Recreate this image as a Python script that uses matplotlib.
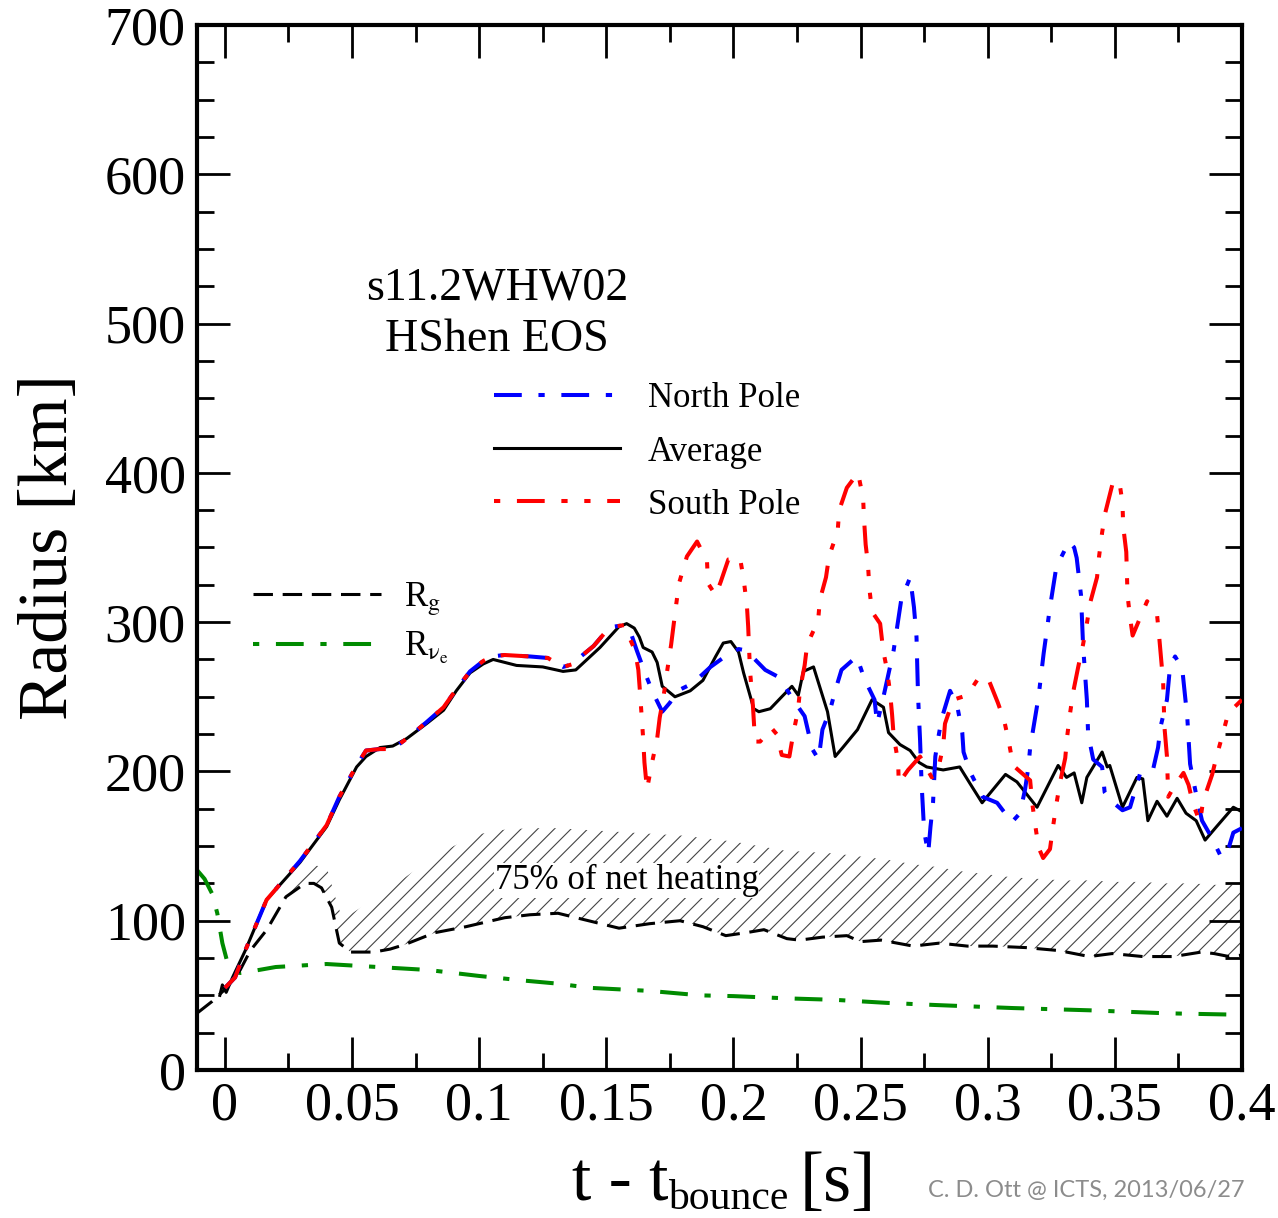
import numpy as np
import matplotlib
matplotlib.use("Agg")
import matplotlib.pyplot as plt
from matplotlib.lines import Line2D
from matplotlib.ticker import MultipleLocator, FuncFormatter

# ---- data (t - t_bounce [s], radius [km]) ----
avg_t = [-0.002, -0.001, 0.0005, 0.003, 0.008, 0.0164, 0.0295, 0.04, 0.045, 0.0518, 0.0555,
         0.061, 0.066, 0.0715, 0.0793, 0.086, 0.091, 0.0964, 0.1016, 0.1055, 0.1147, 0.125,
         0.133, 0.138, 0.1475, 0.155, 0.158, 0.161, 0.163, 0.1645, 0.168, 0.17, 0.172, 0.177,
         0.183, 0.188, 0.193, 0.196, 0.199, 0.202, 0.204, 0.208, 0.21, 0.2145, 0.219, 0.223,
         0.2255, 0.2275, 0.2315, 0.237, 0.24, 0.243, 0.2488, 0.2545, 0.259, 0.261, 0.2655,
         0.2695, 0.273, 0.276, 0.2825, 0.289, 0.293, 0.2978, 0.307, 0.3115, 0.3194, 0.3277,
         0.331, 0.334, 0.337, 0.339, 0.345, 0.347, 0.348, 0.353, 0.355, 0.3587, 0.361, 0.363,
         0.3666, 0.3705, 0.3745, 0.378, 0.382, 0.3855, 0.39, 0.3966, 0.4]
avg_r = [50, 57, 52, 62, 80, 114, 139, 163, 181, 203, 210,
         216, 217, 222, 232, 241, 254, 266, 272, 275, 271, 270,
         267, 268, 283, 297, 299, 296, 290, 283, 280, 273, 257, 250,
         254, 261, 277, 286, 287, 280, 266, 242, 240, 242, 250, 257,
         251, 267, 270, 240, 210, 216, 228, 248, 243, 226, 218,
         214, 206, 203, 201, 203, 192, 179, 198, 193, 176, 204,
         196, 199, 179, 196, 213, 203, 204, 176, 183, 196, 195, 167,
         180, 170, 182, 172, 167, 154, 163, 176, 173]

north_t = [0.0, 0.004, 0.008, 0.0164, 0.0295, 0.04, 0.045, 0.0518, 0.0555, 0.061, 0.066,
           0.0715, 0.0793, 0.086, 0.091, 0.0964, 0.1016, 0.105, 0.11, 0.12, 0.127, 0.133,
           0.137, 0.14, 0.145, 0.149, 0.153, 0.157, 0.16, 0.162, 0.165, 0.168, 0.172, 0.175,
           0.178, 0.184, 0.191, 0.1975, 0.202, 0.205, 0.2125, 0.218, 0.2235, 0.228, 0.231,
           0.2335, 0.235, 0.238, 0.24, 0.2425, 0.2485, 0.2515, 0.2555, 0.2565, 0.259, 0.263,
           0.266, 0.2695, 0.271, 0.272, 0.2726, 0.2734, 0.274, 0.275, 0.2766, 0.2775, 0.2785,
           0.2794, 0.2806, 0.282, 0.2852, 0.288, 0.29, 0.2905, 0.293, 0.298, 0.3037, 0.3095,
           0.3127, 0.3147, 0.316, 0.3167, 0.32, 0.322, 0.3245, 0.327, 0.332, 0.334, 0.335,
           0.3367, 0.3375, 0.339, 0.3395, 0.3415, 0.345, 0.346, 0.348, 0.353, 0.356, 0.36,
           0.365, 0.367, 0.368, 0.3705, 0.3717, 0.3737, 0.3765, 0.3785, 0.3796, 0.3824, 0.3843,
           0.388, 0.392, 0.395, 0.3966, 0.4]
north_r = [55, 62, 80, 114, 140, 164, 183, 204, 214, 215, 215,
           222, 233, 243, 255, 267, 274, 277, 278, 277, 276, 270,
           272, 277, 284, 292, 297, 298, 291, 281, 267, 254, 240, 246,
           254, 259, 270, 278, 282, 281, 268, 263, 248, 237, 215,
           208, 228, 241, 254, 268, 277, 262, 248, 232, 250, 281,
           315, 330, 310, 290, 251, 221, 192, 160, 145, 163, 179,
           210, 223, 236, 254, 244, 226, 213, 200, 183, 179, 166,
           172, 188, 203, 216, 250, 279, 310, 337, 354, 350, 343,
           318, 285, 248, 225, 208, 203, 186, 181, 174, 176, 199,
           201, 216, 230, 248, 270, 277, 269, 236, 205, 181, 167,
           156, 142, 150, 159, 162]

south_t = [0.0, 0.004, 0.008, 0.0164, 0.0295, 0.04, 0.045, 0.0518, 0.0555, 0.061, 0.066,
           0.0715, 0.0793, 0.086, 0.091, 0.0964, 0.1016, 0.105, 0.11, 0.12, 0.127, 0.133,
           0.137, 0.14, 0.145, 0.149, 0.153, 0.157, 0.159, 0.1613, 0.1626, 0.1633, 0.1645,
           0.165, 0.166, 0.168, 0.17, 0.171, 0.1725, 0.174, 0.1755, 0.1775, 0.1786, 0.1817,
           0.1857, 0.1896, 0.19, 0.193, 0.195, 0.198, 0.2026, 0.204, 0.2053, 0.2058, 0.2065,
           0.2077, 0.2085, 0.2105, 0.215, 0.217, 0.219, 0.222, 0.2235, 0.2254, 0.2262, 0.228,
           0.229, 0.2333, 0.234, 0.2364, 0.2376, 0.241, 0.2416, 0.2446, 0.249, 0.251, 0.2514,
           0.252, 0.2529, 0.2535, 0.2545, 0.2577, 0.2589, 0.2604, 0.2616, 0.2624, 0.263,
           0.2648, 0.265, 0.2687, 0.2734, 0.278, 0.2806, 0.2825, 0.2832, 0.2864, 0.2919,
           0.2962, 0.3, 0.304, 0.3065, 0.3084, 0.31, 0.3167, 0.3175, 0.3187, 0.32, 0.3218,
           0.3245, 0.3257, 0.327, 0.3285, 0.3305, 0.3313, 0.3324, 0.3336, 0.3356, 0.3375,
           0.339, 0.3403, 0.343, 0.3438, 0.345, 0.3462, 0.349, 0.3517, 0.353, 0.3533, 0.3545,
           0.355, 0.356, 0.357, 0.3627, 0.3666, 0.3674, 0.369, 0.3695, 0.3705, 0.371, 0.3737,
           0.377, 0.379, 0.3808, 0.3835, 0.3847, 0.3883, 0.39, 0.3926, 0.3946, 0.4]
south_r = [55, 62, 80, 114, 140, 164, 183, 204, 214, 215, 215,
           222, 233, 243, 255, 267, 274, 277, 278, 277, 276, 270,
           272, 277, 284, 292, 297, 298, 290, 281, 268, 252, 222,
           206, 188, 206, 222, 236, 250, 268, 285, 312, 326, 344,
           354, 341, 326, 318, 327, 342, 343, 329, 311, 297, 268,
           243, 220, 220, 229, 225, 211, 210, 225, 241, 255, 271,
           285, 301, 315, 330, 344, 361, 375, 390, 400, 383, 368,
           352, 339, 322, 307, 299, 281, 268, 253, 238, 224,
           206, 192, 201, 210, 196, 202, 217, 232, 248, 251,
           262, 263, 246, 234, 219, 204, 194, 179, 164, 149, 142,
           148, 163, 178, 193, 209, 224, 239, 253, 270, 285,
           299, 313, 330, 344, 360, 373, 392, 395, 380, 364, 347,
           318, 303, 291, 314, 305, 291, 260, 230, 210, 183, 191,
           199, 191, 178, 166, 180, 198, 210, 226, 239, 248]

rg_t = [-0.011, -0.005, 0.0, 0.003, 0.006, 0.01, 0.0165, 0.024, 0.0315, 0.035, 0.038,
        0.042, 0.045, 0.0495, 0.0586, 0.065, 0.0707, 0.0826, 0.0948, 0.11, 0.12, 0.131,
        0.143, 0.155, 0.167, 0.179, 0.188, 0.197, 0.205, 0.212, 0.221, 0.226, 0.235, 0.2446,
        0.25, 0.258, 0.2707, 0.281, 0.292, 0.302, 0.315, 0.328, 0.34, 0.349, 0.361, 0.373,
        0.384, 0.389, 0.395, 0.4]
rg_r = [38, 46, 54, 60, 67, 80, 94, 116, 125, 125, 122,
        109, 85, 79, 79, 81, 84, 92, 96, 102, 104, 105,
        100, 95, 98, 100, 96, 90, 92, 94, 88, 87, 89, 90,
        86, 87, 83, 85, 83, 83, 82, 80, 76, 78, 76, 76,
        79, 78, 76, 77]

nu_t = [-0.011, -0.008, -0.005, -0.003, -0.001, 0.001, 0.003, 0.006, 0.01, 0.02, 0.03,
        0.04, 0.05, 0.06, 0.07, 0.08, 0.09, 0.1, 0.117, 0.13, 0.144, 0.167, 0.187, 0.2,
        0.221, 0.24, 0.26, 0.28, 0.31, 0.34, 0.37, 0.4]
nu_r = [134, 128, 118, 105, 85, 72, 66, 65, 66, 69, 70,
        71, 70, 69, 68, 67, 65, 63, 60, 58, 55, 53, 50, 49.5,
        48, 47, 45, 43.5, 41.5, 40, 38, 37]

# upper edge of the "75% of net heating" region (lower edge is R_g)
heat_t = [0.025, 0.03, 0.035, 0.04, 0.043, 0.046, 0.05, 0.06, 0.07, 0.08, 0.09, 0.1, 0.11,
          0.12, 0.13, 0.14, 0.15, 0.16, 0.17, 0.18, 0.19, 0.2, 0.21, 0.22, 0.23, 0.24, 0.25,
          0.26, 0.27, 0.28, 0.29, 0.3, 0.31, 0.32, 0.33, 0.34, 0.35, 0.36, 0.37, 0.38, 0.39, 0.4]
heat_top = [122, 132, 137, 136, 118, 102, 105, 116, 128, 140, 150, 158, 161,
            162, 162, 161, 160, 159, 158, 157, 155, 153, 150, 147, 146, 145, 143,
            141, 138, 136, 133, 131, 129, 128, 127, 127, 126, 126, 125, 125, 124, 124]

plt.rcParams['font.family'] = 'Liberation Serif'
plt.rcParams['mathtext.fontset'] = 'stix'
plt.rcParams['lines.scale_dashes'] = False
plt.rcParams['hatch.linewidth'] = 0.8

DASH_DOT = (0, (20, 12, 4.5, 12))
DASH_DOT_DOT = (0, (20, 12, 4.5, 12, 4.5, 12))
DASHED = (0, (14, 7))
BLUE = '#0000ff'
RED = '#ff0000'
GREEN = '#008b00'

fig = plt.figure(figsize=(12.78, 12.18), dpi=100)
ax = fig.add_axes([0.1541, 0.1215, 0.8177, 0.858])

# hatched heating region: polygon from its upper edge and R_g below it
rg_t_arr = np.array(rg_t)
rg_r_arr = np.array(rg_r)
inside = (rg_t_arr > heat_t[0]) & (rg_t_arr < heat_t[-1])
poly_x = np.concatenate([heat_t, [heat_t[-1]], rg_t_arr[inside][::-1], [heat_t[0]]])
poly_y = np.concatenate([heat_top, [rg_r[-1]], rg_r_arr[inside][::-1], [118]])
ax.fill(poly_x, poly_y, facecolor='none', edgecolor='#444444', hatch='//', linewidth=0, zorder=1)

kw = dict(dash_capstyle='butt', solid_capstyle='butt')
ax.plot(nu_t, nu_r, color=GREEN, lw=2.9, linestyle=DASH_DOT, zorder=2, **kw)
ax.plot(rg_t, rg_r, color='black', lw=2.2, linestyle=DASHED, zorder=2, **kw)
ax.plot(avg_t, avg_r, color='black', lw=2.2, zorder=3)
ax.plot(north_t, north_r, color=BLUE, lw=2.9, linestyle=DASH_DOT, zorder=4, **kw)
ax.plot(south_t, south_r, color=RED, lw=2.9, linestyle=DASH_DOT_DOT, zorder=5, **kw)

ax.text(0.158, 127, '75% of net heating', fontsize=25, ha='center', va='center', zorder=6,
        bbox=dict(facecolor='white', edgecolor='none', pad=0.5))
ax.text(0.287, 0.7234, 's11.2WHW02\nHShen EOS', transform=ax.transAxes, fontsize=33,
        ha='center', va='center', linespacing=1.25)

h_north = Line2D([], [], color=BLUE, lw=2.9, linestyle=DASH_DOT, **kw)
h_avg = Line2D([], [], color='black', lw=2.2)
h_south = Line2D([], [], color=RED, lw=2.9, linestyle=(0, (4.5, 12, 20, 12, 4.5, 12)), **kw)
leg1 = ax.legend([h_north, h_avg, h_south], ['North Pole', 'Average', 'South Pole'],
                 loc='upper left', bbox_to_anchor=(0.2842, 0.658), frameon=False, fontsize=25,
                 handlelength=3.63, handletextpad=0.8, labelspacing=0.58, borderpad=0,
                 borderaxespad=0)
ax.add_artist(leg1)

h_rg = Line2D([], [], color='black', lw=2.2, linestyle=DASHED, **kw)
h_nu = Line2D([], [], color=GREEN, lw=2.9, linestyle=(0, (4.5, 12, 20, 12)), **kw)
ax.legend([h_rg, h_nu], [r'R$_\mathrm{g}$', r'R$_{\mathrm{\nu}_\mathrm{e}}$'],
          loc='upper left', bbox_to_anchor=(0.0536, 0.4685), frameon=False, fontsize=25,
          handlelength=3.7, handletextpad=0.65, labelspacing=0.35, borderpad=0,
          borderaxespad=0)

ax.set_xlim(-0.011, 0.4)
ax.set_ylim(0, 700)
ax.xaxis.set_major_locator(MultipleLocator(0.05))
ax.xaxis.set_minor_locator(MultipleLocator(0.025))
ax.yaxis.set_major_locator(MultipleLocator(100))
ax.yaxis.set_minor_locator(MultipleLocator(25))
ax.xaxis.set_major_formatter(FuncFormatter(lambda v, p: '%g' % round(v, 3)))
ax.yaxis.set_major_formatter(FuncFormatter(lambda v, p: '%d' % round(v)))
ax.tick_params(which='both', direction='in', top=True, right=True, width=2)
ax.tick_params(which='major', length=24, labelsize=39, pad=8)
ax.tick_params(which='minor', length=12)
for s in ax.spines.values():
    s.set_linewidth(3)

ax.set_ylabel('Radius [km]', fontsize=50, labelpad=16)

# x label built from pieces so the subscript can be small
fig.text(0.5227, 0.0140, 't - t', fontsize=50, ha='right', va='baseline')
fig.text(0.5227, 0.0074, 'bounce', fontsize=30, ha='left', va='baseline')
fig.text(0.626, 0.0140, '[s]', fontsize=52, ha='left', va='baseline')

fig.text(0.974, 0.023, 'C. D. Ott @ ICTS, 2013/06/27', fontsize=17, color='#8c8c8c',
         ha='right', va='center', family='Lato')

fig.savefig('out.png', dpi=100)
